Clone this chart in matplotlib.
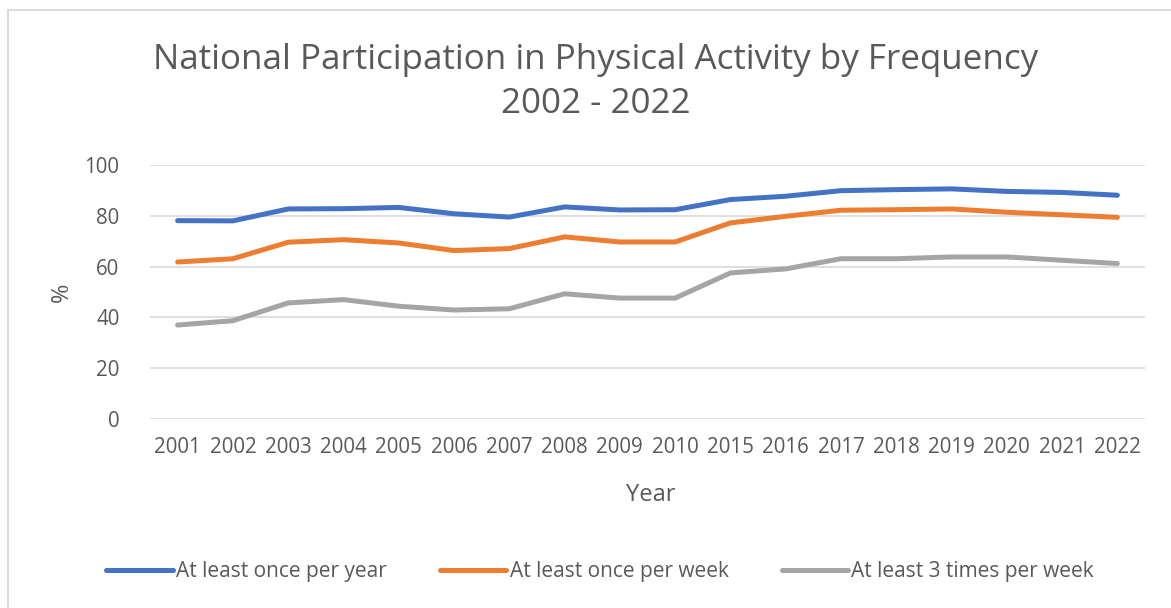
import matplotlib.pyplot as plt
from matplotlib.lines import Line2D

# Data
years = ['2001', '2002', '2003', '2004', '2005', '2006', '2007', '2008', '2009',
         '2010', '2015', '2016', '2017', '2018', '2019', '2020', '2021', '2022']
once_per_year = [78.1, 78.0, 82.7, 82.8, 83.3, 80.8, 79.5, 83.5, 82.3,
                 82.4, 86.4, 87.7, 89.9, 90.3, 90.6, 89.6, 89.2, 88.1]
once_per_week = [61.8, 63.1, 69.6, 70.6, 69.3, 66.3, 67.1, 71.7, 69.7,
                 69.7, 77.2, 79.8, 82.2, 82.4, 82.7, 81.4, 80.4, 79.4]
three_per_week = [37.0, 38.7, 45.7, 47.0, 44.4, 42.9, 43.4, 49.3, 47.6,
                  47.6, 57.5, 59.1, 63.1, 63.1, 63.8, 63.8, 62.5, 61.2]
series_names = ['At least once per year', 'At least once per week', 'At least 3 times per week']
colors = ['#4472C4', '#ED7D31', '#A5A5A5']

plt.rcParams['font.family'] = ['Open Sans', 'DejaVu Sans']
txt = '#595959'

W, H = 1171, 608
fig = plt.figure(figsize=(W / 100, H / 100), dpi=100)
ax = fig.add_axes([150 / W, 1 - 419 / H, (1145 - 150) / W, (419 - 165) / H])

x = list(range(len(years)))
for vals, c, name in zip([once_per_year, once_per_week, three_per_week], colors, series_names):
    ax.plot(x, vals, color=c, lw=3.6, solid_capstyle='round', solid_joinstyle='round', label=name)

ax.set_xlim(-0.5, len(years) - 0.5)
ax.set_ylim(0, 100)
ax.set_yticks(range(0, 101, 20))
ax.set_xticks(x)
ax.set_xticklabels(years)
ax.grid(axis='y', color='#D9D9D9', lw=1.2)
ax.set_axisbelow(True)
for s in ax.spines.values():
    s.set_visible(False)
ax.tick_params(length=0, labelsize=14.8, colors=txt)
ax.tick_params(axis='y', pad=22)
ax.tick_params(axis='x', pad=13)

fig.text(62 / W, 1 - 292 / H, '%', rotation=90, ha='center', va='center', fontsize=17, color=txt)
fig.text(651 / W, 1 - 495 / H, 'Year', ha='center', va='center', fontsize=17, color=txt)
fig.text(596 / W, 1 - 82 / H, 'National Participation in Physical Activity by Frequency\n2002 - 2022',
         ha='center', va='center', fontsize=25.2, color=txt, linespacing=1.35, fontweight='normal')

handles = [Line2D([], [], color=c, lw=3.6, solid_capstyle='round') for c in colors]
fig.legend(handles, series_names, loc='center', bbox_to_anchor=(600 / W, 1 - 572 / H), ncol=3,
           frameon=False, fontsize=15, labelcolor=txt, handlelength=3.2, handletextpad=0.15,
           columnspacing=2.55)

# chart border (top and left edges visible)
fig.add_artist(Line2D([8 / W, 1.0], [1 - 10 / H, 1 - 10 / H], transform=fig.transFigure, color='#D9D9D9', lw=1.3))
fig.add_artist(Line2D([8 / W, 8 / W], [1 - 10 / H, 0], transform=fig.transFigure, color='#D9D9D9', lw=1.3))

fig.savefig('out.png', dpi=100, facecolor='white')
